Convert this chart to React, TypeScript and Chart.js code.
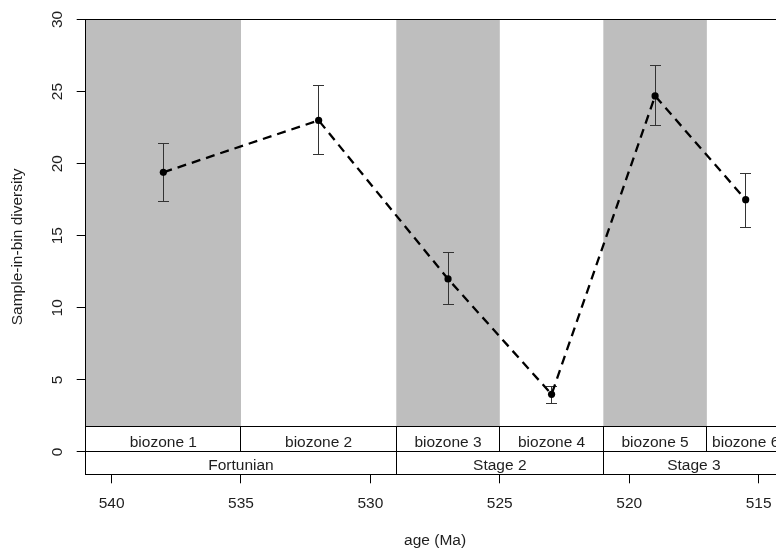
import React, { useEffect, useRef } from 'react';
import { Chart, registerables } from 'chart.js';

Chart.register(...registerables);

// ---- data ----
const ages = [538, 532, 527, 523, 519, 515.5];
const diversity = [19.4, 23.0, 12.0, 4.0, 24.7, 17.5];
const errLow = [17.35, 20.65, 10.2, 3.35, 22.65, 15.6];
const errHigh = [21.4, 25.4, 13.85, 4.55, 26.8, 19.3];

const xTicks = [540, 535, 530, 525, 520, 515];
const yTicks = [0, 5, 10, 15, 20, 25, 30];

const biozoneNames = ['biozone 1', 'biozone 2', 'biozone 3', 'biozone 4', 'biozone 5', 'biozone 6'];
const biozoneOld = [541, 535, 529, 525, 521, 517];
const biozoneYoung = [535, 529, 525, 521, 517, 514];
const biozoneShaded = [true, false, true, false, true, false];

const stageNames = ['Fortunian', 'Stage 2', 'Stage 3'];
const stageOld = [541, 529, 521];
const stageYoung = [529, 521, 514];

const X_MIN = 514;
const X_MAX = 541;
const Y_MIN = -1.55;
const Y_MAX = 30;
const BIOZONE_TOP = 1.8;

const FONT_FAMILY = '"Liberation Sans", Arial, Helvetica, sans-serif';
const FONT_SIZE = 15.5;
const TEXT_COLOR = '#1e1e1e';

const al = (v: number) => Math.round(v - 0.5) + 0.5;

const overlayPlugin = {
  id: 'overlay',
  beforeDatasetsDraw(chart: any) {
    const { ctx, chartArea: ca, scales } = chart;
    const x = scales.x;
    const y = scales.y;
    ctx.save();
    const yTop = ca.top;
    const yBz = y.getPixelForValue(BIOZONE_TOP);
    const y0 = y.getPixelForValue(0);
    const yBot = ca.bottom;

    // grey bands
    ctx.fillStyle = '#BEBEBE';
    biozoneOld.forEach((o, i) => {
      if (!biozoneShaded[i]) return;
      const x1 = x.getPixelForValue(o);
      const x2 = x.getPixelForValue(biozoneYoung[i]);
      ctx.fillRect(Math.min(x1, x2), yTop, Math.abs(x2 - x1), yBz - yTop);
    });

    // table cells
    ctx.strokeStyle = '#000';
    ctx.lineWidth = 1;
    ctx.font = `${FONT_SIZE}px ${FONT_FAMILY}`;
    ctx.textAlign = 'center';
    ctx.textBaseline = 'alphabetic';
    ctx.fillStyle = TEXT_COLOR;
    biozoneOld.forEach((o, i) => {
      const a = Math.min(o, X_MAX);
      const b = Math.max(biozoneYoung[i], X_MIN);
      const x1 = x.getPixelForValue(a);
      const x2 = x.getPixelForValue(b);
      ctx.strokeRect(al(x1), al(yBz), al(x2) - al(x1), al(y0) - al(yBz));
      ctx.fillText(biozoneNames[i], (x1 + x2) / 2, y0 - 4.5);
    });
    stageOld.forEach((o, i) => {
      const a = Math.min(o, X_MAX);
      const b = Math.max(stageYoung[i], X_MIN);
      const x1 = x.getPixelForValue(a);
      const x2 = x.getPixelForValue(b);
      ctx.strokeRect(al(x1), al(y0), al(x2) - al(x1), al(yBot) - al(y0));
      ctx.fillText(stageNames[i], (x1 + x2) / 2, yBot - 4.3);
    });

    // error bars
    ctx.strokeStyle = '#333';
    ctx.lineWidth = 1;
    const cap = 5.5;
    ages.forEach((a, i) => {
      const px = al(x.getPixelForValue(a));
      const lo = al(y.getPixelForValue(errLow[i]));
      const hi = al(y.getPixelForValue(errHigh[i]));
      ctx.beginPath();
      ctx.moveTo(px, lo);
      ctx.lineTo(px, hi);
      ctx.moveTo(px - cap, lo);
      ctx.lineTo(px + cap, lo);
      ctx.moveTo(px - cap, hi);
      ctx.lineTo(px + cap, hi);
      ctx.stroke();
    });
    ctx.restore();
  },
  afterDraw(chart: any) {
    const { ctx, chartArea: ca } = chart;
    ctx.save();
    ctx.strokeStyle = '#000';
    ctx.lineWidth = 1;
    ctx.strokeRect(al(ca.left), al(ca.top), al(ca.right) - al(ca.left), al(ca.bottom) - al(ca.top));
    ctx.restore();
  },
};

export default function App() {
  const canvasRef = useRef<HTMLCanvasElement | null>(null);

  useEffect(() => {
    const canvas = canvasRef.current;
    if (!canvas) return;
    const font = { family: FONT_FAMILY, size: FONT_SIZE };
    const chart = new Chart(canvas, {
      type: 'line',
      data: {
        datasets: [
          {
            data: ages.map((a, i) => ({ x: a, y: diversity[i] })),
            borderColor: '#000',
            borderWidth: 2.3,
            borderDash: [9, 6],
            borderCapStyle: 'butt',
            pointRadius: 3.6,
            pointBackgroundColor: '#000',
            pointBorderColor: '#000',
            pointBorderWidth: 0,
            tension: 0,
            fill: false,
          },
        ],
      },
      options: {
        responsive: false,
        animation: false,
        events: [],
        layout: { padding: { left: 0, right: 15.5, top: 19.5, bottom: 0 } },
        plugins: {
          legend: { display: false },
          tooltip: { enabled: false },
        },
        scales: {
          x: {
            type: 'linear',
            reverse: true,
            min: X_MIN,
            max: X_MAX,
            afterBuildTicks: (s: any) => {
              s.ticks = xTicks.map((v) => ({ value: v }));
            },
            afterFit: (s: any) => {
              s.height = 75.7;
            },
            grid: { display: true, drawOnChartArea: false, drawTicks: true, tickLength: 9, color: '#000', lineWidth: 1 },
            border: { display: false },
            ticks: { font, color: TEXT_COLOR, padding: 11.3, maxRotation: 0, minRotation: 0, autoSkip: false },
            title: { display: true, text: 'age (Ma)', font, color: TEXT_COLOR, padding: 0 },
          },
          y: {
            type: 'linear',
            min: Y_MIN,
            max: Y_MAX,
            afterBuildTicks: (s: any) => {
              s.ticks = yTicks.map((v) => ({ value: v }));
            },
            afterFit: (s: any) => {
              s.width = 85.7;
            },
            grid: { display: true, drawOnChartArea: false, drawTicks: true, tickLength: 9, color: '#000', lineWidth: 1 },
            border: { display: false },
            ticks: {
              font,
              color: TEXT_COLOR,
              padding: 10.2,
              minRotation: 90,
              maxRotation: 90,
              crossAlign: 'center',
              autoSkip: false,
            },
            title: {
              display: true,
              text: 'Sample-in-bin diversity',
              font,
              color: TEXT_COLOR,
              padding: { top: 8.8, bottom: 0 },
            },
          },
        },
      },
      plugins: [overlayPlugin],
    } as any);
    return () => chart.destroy();
  }, []);

  return (
    <div style={{ position: 'fixed', left: 0, top: 0, width: 776, height: 550, overflow: 'hidden', background: '#fff' }}>
      <canvas ref={canvasRef} width={800} height={550} style={{ display: 'block', width: 800, height: 550 }} />
    </div>
  );
}
